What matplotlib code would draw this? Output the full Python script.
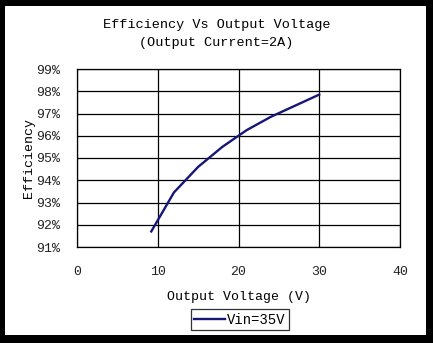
import matplotlib
matplotlib.use("Agg")
import matplotlib.pyplot as plt
from matplotlib.patches import Rectangle

# data
vout = [9.2, 12, 15, 18, 21, 24, 27, 30]
eff = [91.7, 93.45, 94.6, 95.5, 96.25, 96.85, 97.35, 97.85]
series_name = 'Vin=35V'
yticks = [91, 92, 93, 94, 95, 96, 97, 98, 99]
xticks = [0, 10, 20, 30, 40]

W, H = 433, 343
fig = plt.figure(figsize=(W / 100, H / 100), dpi=100)
fig.patch.set_facecolor('black')
fig.patches.append(Rectangle((5 / W, 1 - 335 / H), 421 / W, 329 / H,
                             transform=fig.transFigure, facecolor='white',
                             edgecolor='none', zorder=-5))

font = 'Liberation Mono'
ax = fig.add_axes([77 / W, 1 - 247 / H, 323 / W, 178 / H])
ax.plot(vout, eff, color='#161677', lw=1.7, label=series_name)
ax.set_xlim(0, 40)
ax.set_ylim(91, 99)
ax.set_xticks(xticks)
ax.set_yticks(yticks)
ax.set_yticklabels([f'{v}%' for v in yticks])
ax.grid(True, color='black', lw=0.9)
ax.tick_params(length=0, labelsize=9.5, colors='#222222')
ax.tick_params(axis='x', pad=14)
ax.tick_params(axis='y', pad=12)
for lab in ax.get_xticklabels() + ax.get_yticklabels():
    lab.set_family(font)
for s in ax.spines.values():
    s.set_linewidth(0.9)

ax.set_xlabel('Output Voltage (V)', family=font, fontsize=9.5, labelpad=9)
ax.set_ylabel('Efficiency', family=font, fontsize=9.5, labelpad=1)

fig.text(0.5, 1 - 25 / H, 'Efficiency Vs Output Voltage', ha='center', va='center',
         family=font, fontsize=9.7)
fig.text(0.5, 1 - 43 / H, '(Output Current=2A)', ha='center', va='center',
         family=font, fontsize=9.7)

leg = fig.legend(loc='center', bbox_to_anchor=(240 / W, 1 - 319.5 / H),
                 prop={'family': font, 'size': 10}, frameon=True, fancybox=False,
                 handlelength=2.2, handletextpad=0.2, borderpad=0.25)
leg.get_frame().set_edgecolor('black')
leg.get_frame().set_linewidth(0.9)

fig.savefig('out.png', dpi=100, facecolor=fig.get_facecolor())
